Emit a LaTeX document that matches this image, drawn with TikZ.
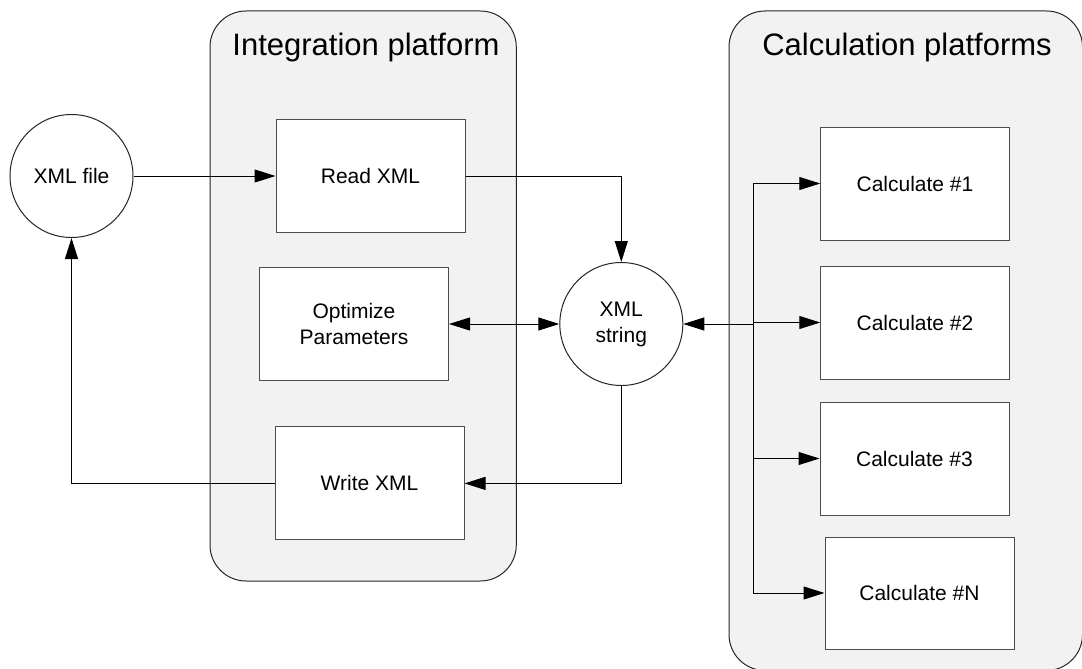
\documentclass[tikz,border=0pt]{standalone}
\usepackage{fontspec}
\setmainfont{Liberation Sans}
\usetikzlibrary{arrows.meta}
\begin{document}
\begin{tikzpicture}[x=1pt,y=-1pt,
  tri/.style={-{Triangle[length=21pt,width=13pt]}},
  tritri/.style={{Triangle[length=21pt,width=13pt]}-{Triangle[length=21pt,width=13pt]}},
  wire/.style={line width=1pt,black},
  platform/.style={draw=black!85,line width=1pt,fill=black!5,rounded corners=36pt},
  title/.style={font=\fontsize{31}{37}\selectfont,inner sep=0pt},
  stepbox/.style={draw=black!70,line width=1pt,fill=white,minimum width=189pt,minimum height=113pt,inner sep=0pt,
    font=\fontsize{21}{26}\selectfont,align=center},
  store/.style={circle,draw=black!85,line width=1pt,fill=white,minimum size=123pt,inner sep=0pt,
    font=\fontsize{21}{26}\selectfont,align=center}]
\useasboundingbox (0,0) rectangle (1082,669);

% platform containers
\draw[platform] (210,11) rectangle (516.3,581);
\draw[platform] (729,11) rectangle (1082.5,670.5);
\node[title] (inttitle) at (366,47) {Integration platform};
\node[title] (calctitle) at (907,47) {Calculation platforms};

% data stores
\node[store] (file) at (71.5,176) {XML file};
\node[store] (str) at (621.3,324) {XML\\string};

% integration steps
\node[stepbox] (read) at (370.5,176) {Read XML};
\node[stepbox] (opt) at (354,324) {Optimize\\Parameters};
\node[stepbox] (write) at (369.5,483.4) {Write XML};

% calculation steps
\node[stepbox,minimum width=188.5pt] (c1) at (915,183.5) {Calculate \#1};
\node[stepbox,minimum width=188.5pt] (c2) at (915,322.5) {Calculate \#2};
\node[stepbox] (c3) at (914.5,458.5) {Calculate \#3};
\node[stepbox,minimum height=112pt] (cN) at (919.5,593) {Calculate \#N};

% distribution bus
\coordinate (bustop) at (753.3,183.5);
\coordinate (busbot) at (753.3,593);
\coordinate (busmid) at (753.3,324);

% connectors
\draw[wire,tri] (file.east) -- (read.west);
\draw[wire,tri] (read.east) -| (str.north);
\draw[wire,tritri] (opt.east) -- (str.west);
\draw[wire,tri] (str.south) |- (write.east);
\draw[wire,tri] (write.west) -| (file.south);
\draw[wire] (bustop) -- (busbot);
\draw[wire,tri] (busmid) -- (str.east);
\draw[wire,tri] (bustop) -- (c1.west);
\draw[wire,tri] (bustop |- c2.west) -- (c2.west);
\draw[wire,tri] (bustop |- c3.west) -- (c3.west);
\draw[wire,tri] (busbot) -- (cN.west);
\end{tikzpicture}
\end{document}
